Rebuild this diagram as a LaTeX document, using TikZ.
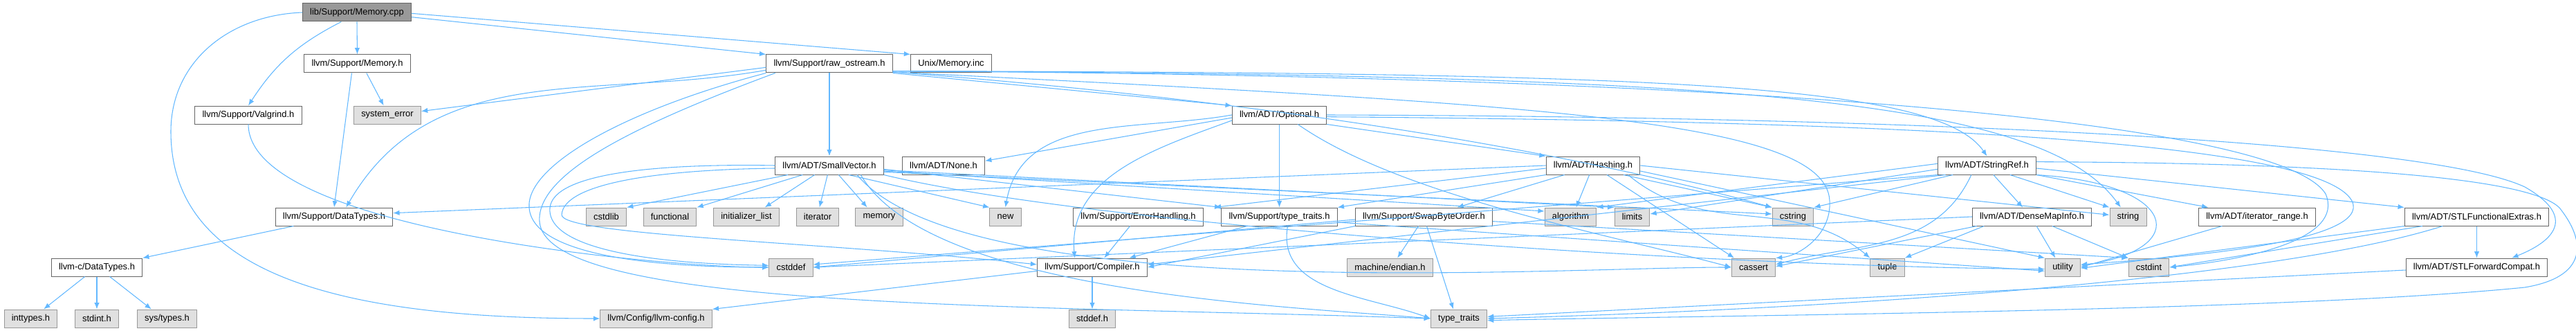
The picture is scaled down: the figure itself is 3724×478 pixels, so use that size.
\documentclass[tikz,border=0pt]{standalone}
\usepackage{fontspec}
\setmainfont{Liberation Sans}
\usetikzlibrary{arrows.meta}
\definecolor{edgeblue}{HTML}{63B8FF}
\definecolor{hdrline}{HTML}{666666}
\definecolor{sysfill}{HTML}{E0E0E0}
\definecolor{sysline}{HTML}{999999}
\definecolor{rootfill}{HTML}{999999}

\begin{document}
\begin{tikzpicture}[x=0.75pt, y=-0.75pt, >={Latex[length=7pt,width=5.5pt]},
  hdr/.style={draw=hdrline, fill=white, line width=0.75pt, minimum height=19.5pt,
    inner xsep=8pt, inner ysep=0pt, font=\fontsize{9.7}{11}\selectfont},
  sys/.style={hdr, draw=sysline, fill=sysfill},
  root/.style={hdr, fill=rootfill},
  every edge/.style={draw=edgeblue, line width=0.8pt},
  dep/.style={->, draw=edgeblue, line width=0.8pt}]
\useasboundingbox (0,0) rectangle (3724,478);

% rows 0-3
\node[name=memcpp, root] at (516,18) {lib/Support/Memory.cpp};
\node[name=memh, hdr] at (516.5,92) {llvm/Support/Memory.h};
\node[name=rawos, hdr] at (1199,92) {llvm/Support/raw\_ostream.h};
\node[name=unixinc, hdr] at (1375,92) {Unix/Memory.inc};
\node[name=valgrind, hdr] at (359,166) {llvm/Support/Valgrind.h};
\node[name=syserr, sys] at (560,166) {system\_error};
\node[name=optional, hdr] at (1849.5,166) {llvm/ADT/Optional.h};
\node[name=smallvec, hdr] at (1199,239) {llvm/ADT/SmallVector.h};
\node[name=none, hdr] at (1364,239) {llvm/ADT/None.h};
\node[name=hashing, hdr] at (2303,239) {llvm/ADT/Hashing.h};
\node[name=stringref, hdr] at (2872.5,239) {llvm/ADT/StringRef.h};
% row 4
\node[name=datatypes, hdr] at (483,313) {llvm/Support/DataTypes.h};
\node[name=cstdlib, sys] at (876.5,313) {cstdlib};
\node[name=functional, sys] at (968.5,313) {functional};
\node[name=initlist, sys] at (1079,313) {initializer\_list};
\node[name=iterator, sys] at (1182,313) {iterator};
\node[name=memory, sys] at (1271,313) {memory};
\node[name=new, sys] at (1453.5,313) {new};
\node[name=errhand, hdr] at (1645.5,313) {llvm/Support/ErrorHandling.h};
\node[name=typetraitsh, hdr] at (1849.5,313) {llvm/Support/type\_traits.h};
\node[name=swapbyte, hdr] at (2058.5,313) {llvm/Support/SwapByteOrder.h};
\node[name=algorithm, sys] at (2270.5,313) {algorithm};
\node[name=limits, sys] at (2359.5,313) {limits};
\node[name=cstring, sys] at (2592,313) {cstring};
\node[name=densemap, hdr] at (2937.5,313) {llvm/ADT/DenseMapInfo.h};
\node[name=string, sys] at (3076.5,313) {string};
\node[name=iterrange, hdr] at (3263,313) {llvm/ADT/iterator\_range.h};
\node[name=stlfunc, hdr] at (3580.5,313) {llvm/ADT/STLFunctionalExtras.h};
% row 5
\node[name=cdatatypes, hdr] at (140,386) {llvm-c/DataTypes.h};
\node[name=cstddef, sys] at (1143.5,386) {cstddef};
\node[name=compiler, hdr] at (1579,386) {llvm/Support/Compiler.h};
\node[name=endian, sys] at (2009.5,386) {machine/endian.h};
\node[name=cassert, sys] at (2535,386) {cassert};
\node[name=tuple, sys] at (2728.5,386) {tuple};
\node[name=utility, sys] at (2982,386) {utility};
\node[name=cstdint, sys] at (3106.5,386) {cstdint};
\node[name=stlfwd, hdr] at (3580.5,386) {llvm/ADT/STLForwardCompat.h};
% row 6
\node[name=inttypes, sys] at (44.5,460) {inttypes.h};
\node[name=stdint, sys] at (140,460) {stdint.h};
\node[name=systypes, sys] at (241.5,460) {sys/types.h};
\node[name=llvmconfig, sys] at (948.5,460) {llvm/Config/llvm-config.h};
\node[name=stddef, sys] at (1579,460) {stddef.h};
\node[name=typetraits, sys] at (2109,460) {type\_traits};

% Memory.cpp
\draw(memcpp.south) edge[->](memh.north);
\draw([xshift=-17pt]memcpp.south) edge[->, bend right=15](valgrind.north);
\draw[dep](memcpp.west) .. controls (330,22) and (247,90) .. (247,190) .. controls (247,400) and (500,460) .. (llvmconfig.west);
\draw([yshift=-5pt]memcpp.east) edge[->](rawos.north west);
\draw([yshift=-1pt]memcpp.east) edge[->](unixinc.north west);
% Memory.h, Valgrind.h, DataTypes
\draw([xshift=-6pt]memh.south) edge[->](datatypes.north);
\draw([xshift=10pt]memh.south) edge[->]([xshift=-4pt]syserr.north);
\draw(valgrind.south) edge[->, out=-90, in=180, looseness=0.5](cstddef.west);
\draw([xshift=-44pt]datatypes.south) edge[->](cdatatypes.north east);
\draw([xshift=-13pt]cdatatypes.south) edge[->]([xshift=14pt]inttypes.north);
\draw(cdatatypes.south) edge[->](stdint.north);
\draw([xshift=14pt]cdatatypes.south) edge[->]([xshift=-17pt]systypes.north);
% raw_ostream.h
\draw(rawos.south) edge[->](smallvec.north);
\draw(rawos.south east) edge[->](optional.north west);
\draw([yshift=-4pt]rawos.west) edge[->]([yshift=4pt]syserr.east);
\draw([yshift=-7pt]rawos.west) edge[->, out=190, in=60]([xshift=13pt]datatypes.north);
\draw[dep](rawos.south west) .. controls (900,160) and (760,240) .. (765,300) .. controls (770,370) and (950,386) .. (cstddef.west);
\draw[dep]([xshift=10pt]rawos.south west) .. controls (920,180) and (775,250) .. (780,320) .. controls (790,450) and (1500,440) .. (typetraits.west);
\draw[dep]([yshift=-8pt]rawos.east) .. controls (2400,105) and (2800,120) .. (stringref.north);
\draw[dep]([yshift=-8pt]rawos.east) .. controls (2500,108) and (2950,140) .. ([xshift=-8pt]string.north);
\draw[dep]([yshift=-9pt]rawos.east) .. controls (1700,135) and (2180,195) .. (cstring.north west);
\draw[dep]([yshift=-9pt]rawos.east) .. controls (2200,150) and (2640,170) .. (2645,290) .. controls (2648,340) and (2600,370) .. (cassert.north east);
\draw[dep]([yshift=-8pt]rawos.east) .. controls (2600,110) and (3300,180) .. (3362,280) .. controls (3390,345) and (3250,375) .. (cstdint.east);
% Optional.h
\draw([yshift=-3pt]optional.west) edge[->]([yshift=5pt]none.east);
\draw(optional.west) edge[->, out=190, in=80](new.north);
\draw([yshift=-6pt]optional.west) edge[->, out=200, in=95]([xshift=-19pt]compiler.north);
\draw(optional.south) edge[->](typetraitsh.north);
\draw(optional.south east) edge[->](hashing.north west);
\draw([xshift=20pt]optional.south) edge[->, out=-35, in=165, looseness=0.7](cassert.west);
\draw[dep](optional.east) .. controls (2700,168) and (3500,200) .. (3650,270) .. controls (3720,310) and (3700,345) .. ([xshift=38pt]stlfwd.north);
\draw[dep]([yshift=-2pt]optional.east) .. controls (2700,175) and (3350,200) .. (3400,290) .. controls (3430,350) and (3150,372) .. ([yshift=3pt]utility.east);
% SmallVector.h
\draw([xshift=-45pt]smallvec.south) edge[->](cstdlib.north east);
\draw([xshift=-29pt]smallvec.south) edge[->](functional.north east);
\draw([xshift=-16pt]smallvec.south) edge[->]([xshift=20pt]initlist.north);
\draw([xshift=-2pt]smallvec.south) edge[->]([xshift=2pt]iterator.north);
\draw([xshift=10pt]smallvec.south) edge[->]([xshift=-13pt]memory.north);
\draw([xshift=21pt]smallvec.south) edge[->](new.north west);
\draw([yshift=-4pt]smallvec.east) edge[->](typetraitsh.north west);
\draw([yshift=-6pt]smallvec.east) edge[->]([yshift=6pt]algorithm.west);
\draw([yshift=-5pt]smallvec.east) edge[->](limits.north west);
\draw([yshift=-7pt]smallvec.east) edge[->]([yshift=3pt]cstring.west);
\draw([xshift=30pt]smallvec.south) edge[->, out=-50, in=180, looseness=0.5](cassert.west);
\draw[dep](smallvec.south east) .. controls (1600,330) and (2500,385) .. ([yshift=-2pt]utility.west);
\draw([xshift=34pt]smallvec.south) edge[->, out=-60, in=175, looseness=0.6](typetraits.west);
\draw[dep](smallvec.west) .. controls (950,236) and (800,250) .. (795,300) .. controls (790,350) and (900,380) .. ([yshift=2pt]cstddef.west);
\draw[dep]([yshift=-3pt]smallvec.west) .. controls (950,245) and (815,265) .. (812,310) .. controls (810,340) and (1200,350) .. ([yshift=3pt]compiler.west);
% Hashing.h
\draw(hashing.west) edge[->]([yshift=4pt]datatypes.east);
\draw([yshift=-3pt]hashing.west) edge[->]([xshift=12pt]errhand.north east);
\draw(hashing.south west) edge[->](typetraitsh.north east);
\draw([xshift=-31pt]hashing.south) edge[->]([xshift=36pt]swapbyte.north);
\draw([xshift=-4pt]hashing.south) edge[->]([xshift=6pt]algorithm.north);
\draw([xshift=15pt]hashing.south) edge[->]([xshift=-21pt]cassert.north);
\draw([xshift=33pt]hashing.south) edge[->](cstring.north west);
\draw([xshift=38pt]hashing.south) edge[->, out=-40, in=140](tuple.north west);
\draw(hashing.east) edge[->]([yshift=2pt]string.west);
\draw([yshift=-6pt]hashing.east) edge[->](utility.north west);
% StringRef.h
\draw([xshift=7pt]stringref.south) edge[->]([xshift=-10pt]densemap.north);
\draw([xshift=25pt]stringref.south) edge[->](string.north west);
\draw(stringref.south east) edge[->]([xshift=-53pt]iterrange.north);
\draw([yshift=-3pt]stringref.east) edge[->](stlfunc.north west);
\draw[dep](stringref.south east) .. controls (3150,265) and (3170,360) .. ([yshift=2pt]utility.east);
\draw([yshift=2pt]stringref.west) edge[->](algorithm.north east);
\draw([yshift=-4pt]stringref.west) edge[->]([yshift=3pt]limits.east);
\draw([xshift=-37pt]stringref.south) edge[->](cstring.north east);
\draw([xshift=-17pt]stringref.south) edge[->, out=-115, in=15]([yshift=3pt]cassert.east);
\draw(stringref.south west) edge[->]([yshift=3pt]cstddef.east);
\draw([xshift=-45pt]stringref.south) edge[->]([yshift=3pt]compiler.east);
\draw[dep]([yshift=4pt]stringref.east) .. controls (3300,235) and (3650,250) .. (3700,300) .. controls (3740,350) and (3740,400) .. (3650,415) .. controls (3300,450) and (2500,455) .. ([yshift=-2pt]typetraits.east);
% DenseMapInfo.h, iterator_range.h, STLFunctionalExtras.h, STLForwardCompat.h
\draw([xshift=-52pt]densemap.south) edge[->](tuple.north east);
\draw([xshift=-60pt]densemap.south) edge[->]([yshift=1pt]cassert.east);
\draw(densemap.west) edge[->](cstddef.east);
\draw([xshift=5pt]densemap.south) edge[->]([xshift=-8pt]utility.north);
\draw([xshift=22pt]densemap.south) edge[->](cstdint.north west);
\draw([xshift=-38pt]iterrange.south) edge[->](utility.east);
\draw(stlfunc.south) edge[->](stlfwd.north);
\draw([xshift=-59pt]stlfunc.south) edge[->](cstdint.east);
\draw(stlfunc.south west) edge[->]([yshift=-1pt]utility.east);
\draw[dep]([xshift=-37pt]stlfunc.south) .. controls (3300,400) and (2700,445) .. (typetraits.east);
\draw([yshift=-3pt]stlfwd.west) edge[->]([yshift=2pt]typetraits.east);
% type_traits.h, ErrorHandling.h, SwapByteOrder.h
\draw([xshift=-35pt]typetraitsh.south) edge[->]([xshift=40pt]compiler.north);
\draw([xshift=9pt]typetraitsh.south) edge[->, out=-100, in=160](typetraits.west);
\draw([yshift=-6pt]typetraitsh.east) edge[->]([yshift=-4pt]utility.west);
\draw([xshift=-9pt]errhand.south) edge[->]([xshift=13pt]compiler.north);
\draw([xshift=-6pt]swapbyte.south) edge[->]([xshift=8pt]endian.north);
\draw([xshift=3pt]swapbyte.south) edge[->]([xshift=-6pt]typetraits.north);
\draw(swapbyte.south west) edge[->](compiler.east);
\draw([yshift=-3pt]swapbyte.west) edge[->](cstddef.east);
\draw([yshift=-5pt]swapbyte.east) edge[->](cstdint.north west);
% Compiler.h
\draw(compiler.south) edge[->](stddef.north);
\draw([yshift=-4pt]compiler.west) edge[->](llvmconfig.north east);
\end{tikzpicture}
\end{document}
